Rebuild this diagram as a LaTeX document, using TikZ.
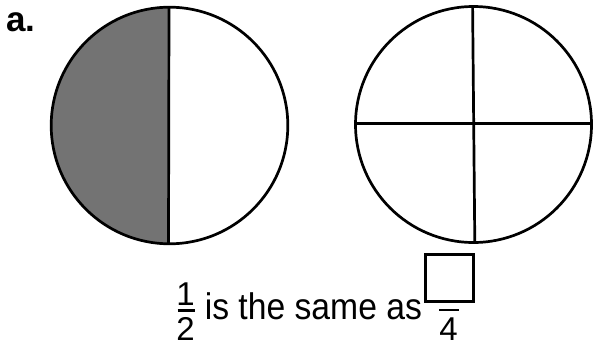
\documentclass[tikz,border=0pt]{standalone}
\usepackage{fontspec}
\setmainfont{Liberation Sans}
\newfontfamily\narrowsans[FakeStretch=0.91]{Liberation Sans}
\begin{document}
\begin{tikzpicture}[x=1pt,y=-1pt,line width=2.7pt,
  maintext/.style={inner sep=0pt,font=\narrowsans\fontsize{37}{37}\selectfont},
  digit/.style={inner sep=0pt,anchor=base,text depth=0pt,font=\fontsize{33}{33}\selectfont},
  shade/.style={fill=black!55}]
\useasboundingbox (0,0) rectangle (593,345);
% left circle, left half shaded
\coordinate (cL) at (169.5,125.5);
\begin{scope}
  \clip (40,0) rectangle (169.5,260);
  \fill[shade] (cL) circle[radius=118.3pt];
\end{scope}
\draw (cL) circle[radius=118.3pt];
\coordinate (lt) at (169,7.2);
\coordinate (lb) at (168.5,243.8);
\draw (lt) -- (lb);
% right circle in quarters
\coordinate (cR) at (473.5,124.5);
\draw (cR) circle[radius=118pt];
\coordinate (rt) at (472.6,6.5);
\coordinate (rb) at (474.8,242.5);
\coordinate (rl) at (355.5,123.7);
\coordinate (rr) at (591.5,123.7);
\draw (rt) -- (rb);
\draw (rl) -- (rr);
% label
\node[inner sep=0pt,anchor=base west,text depth=0pt,font=\bfseries\fontsize{35}{35}\selectfont] (lbl) at (5,31) {a.};
% sentence
\node[digit] (one) at (185.5,305) {1};
\coordinate (b1l) at (177.5,310.5);
\coordinate (b1r) at (194.5,310.5);
\draw[line width=2.2pt] (b1l) -- (b1r);
\node[digit] (two) at (185.5,340.5) {2};
\node[maintext,anchor=base west,text depth=0pt] (txt) at (203.5,319.5) {is the same as};
\node[draw,inner sep=0pt,minimum width=48pt,minimum height=47pt] (box) at (449.5,278) {};
\coordinate (b4l) at (439,310);
\coordinate (b4r) at (458.5,310);
\draw[line width=2.2pt] (b4l) -- (b4r);
\node[digit] (four) at (448.5,340) {4};
\end{tikzpicture}
\end{document}
